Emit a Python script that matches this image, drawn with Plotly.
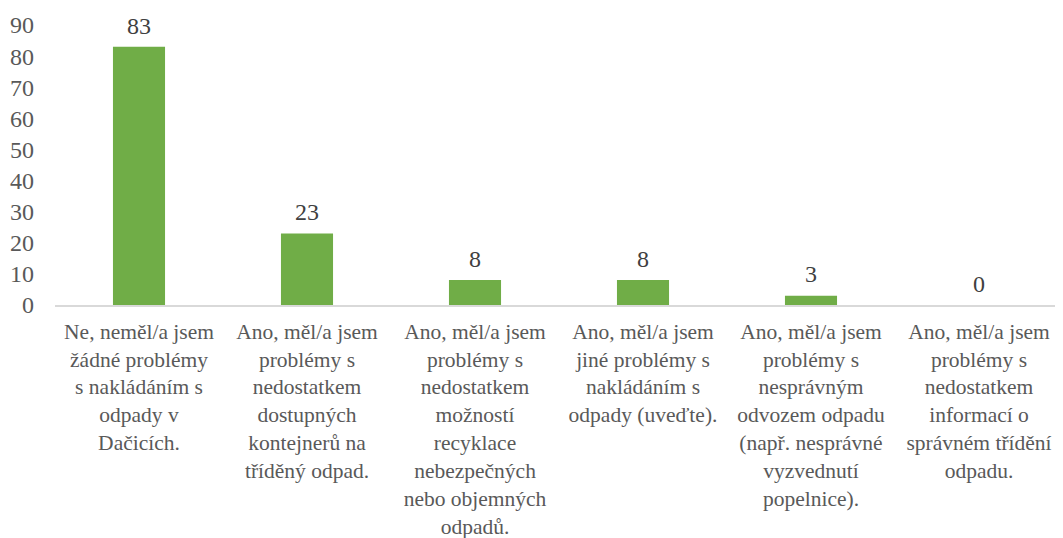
import plotly.graph_objects as go

categories = [
    "Ne, neměl/a jsem<br>žádné problémy<br>s nakládáním s<br>odpady v<br>Dačicích.",
    "Ano, měl/a jsem<br>problémy s<br>nedostatkem<br>dostupných<br>kontejnerů na<br>tříděný odpad.",
    "Ano, měl/a jsem<br>problémy s<br>nedostatkem<br>možností<br>recyklace<br>nebezpečných<br>nebo objemných<br>odpadů.",
    "Ano, měl/a jsem<br>jiné problémy s<br>nakládáním s<br>odpady (uveďte).",
    "Ano, měl/a jsem<br>problémy s<br>nesprávným<br>odvozem odpadu<br>(např. nesprávné<br>vyzvednutí<br>popelnice).",
    "Ano, měl/a jsem<br>problémy s<br>nedostatkem<br>informací o<br>správném třídění<br>odpadu.",
]
values = [83, 23, 8, 8, 3, 0]
y_ticks = [0, 10, 20, 30, 40, 50, 60, 70, 80, 90]

FONT = "Liberation Serif"
XSIZE = 21.5
YSIZE = 24

fig = go.Figure()
fig.add_trace(go.Bar(
    x=categories,
    y=values,
    marker=dict(color="#70AD47", line=dict(width=0)),
    width=0.31,
    hoverinfo="skip",
))
fig.add_trace(go.Scatter(
    x=categories,
    y=values,
    mode="markers+text",
    marker=dict(size=10, opacity=0),
    text=[str(v) for v in values],
    textposition="top center",
    textfont=dict(family=FONT, size=YSIZE, color="#404040"),
    cliponaxis=False,
))

fig.update_layout(
    width=1055,
    height=530,
    margin=dict(l=47, r=0, t=17, b=233),
    paper_bgcolor="white",
    plot_bgcolor="white",
    showlegend=False,
    font=dict(family=FONT, size=XSIZE, color="#595959"),
)
fig.update_xaxes(
    showline=True,
    linecolor="#D9D9D9",
    linewidth=1.5,
    showgrid=False,
    ticks="",
    tickangle=0,
    automargin=False,
    ticklabelstandoff=6,
    tickfont=dict(family=FONT, size=XSIZE, color="#595959"),
)
fig.update_yaxes(
    range=[0, 90],
    tickvals=y_ticks,
    showgrid=False,
    zeroline=False,
    showline=False,
    ticks="",
    automargin=False,
    ticklabelstandoff=20,
    tickfont=dict(family=FONT, size=YSIZE, color="#595959"),
)

fig.write_html("out.html")
